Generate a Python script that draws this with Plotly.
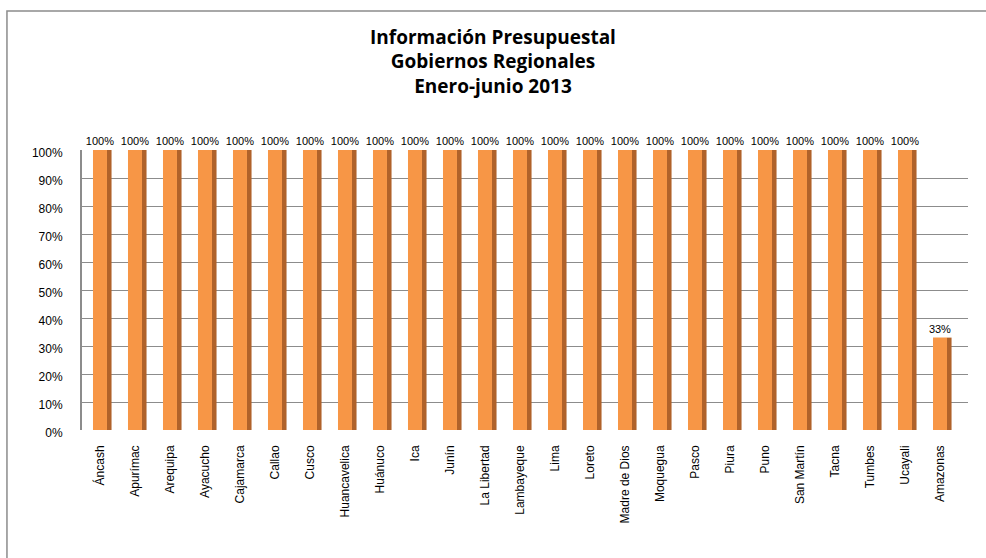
import plotly.graph_objects as go

categories = ["Áncash", "Apurímac", "Arequipa", "Ayacucho", "Cajamarca", "Callao", "Cusco",
              "Huancavelica", "Huánuco", "Ica", "Junín", "La Libertad", "Lambayeque", "Lima",
              "Loreto", "Madre de Dios", "Moquegua", "Pasco", "Piura", "Puno", "San Martín",
              "Tacna", "Tumbes", "Ucayali", "Amazonas"]
values = [1.0] * 24 + [0.33]
labels = ["100%"] * 24 + ["33%"]
y_ticks = [0, 0.1, 0.2, 0.3, 0.4, 0.5, 0.6, 0.7, 0.8, 0.9, 1.0]
y_ticktext = ["0%", "10%", "20%", "30%", "40%", "50%", "60%", "70%", "80%", "90%", "100%"]

idx = list(range(len(categories)))
label_font = dict(family="Liberation Sans, Arial", size=11, color="#000000")

fig = go.Figure()
# side face (darker)
fig.add_trace(go.Bar(x=idx, y=values, width=0.13, offset=0.2,
                     marker=dict(color="#B0622A", line=dict(width=0)),
                     hoverinfo="skip", showlegend=False))
# front face
fig.add_trace(go.Bar(x=idx, y=values, width=0.4, offset=-0.2,
                     marker=dict(color="#F79646", line=dict(width=0)),
                     text=labels, textposition="outside", cliponaxis=False,
                     constraintext="none",
                     textfont=label_font, outsidetextfont=label_font,
                     showlegend=False))

fig.update_layout(
    width=986, height=558,
    barmode="overlay",
    paper_bgcolor="white", plot_bgcolor="white",
    margin=dict(l=82, r=18, t=150, b=128, autoexpand=False),
    title=dict(text="<b>Información Presupuestal<br>Gobiernos Regionales<br>Enero-junio 2013</b>",
               x=0.5, xanchor="center", y=0.922, yanchor="top",
               font=dict(family="Open Sans, Liberation Sans", size=19, color="#000000")),
    xaxis=dict(tickmode="array", tickvals=idx, ticktext=categories, tickangle=-90,
               range=[-0.514, 24.8], showgrid=False, zeroline=False, showline=False,
               automargin=False, ticks="", ticklabelstandoff=12,
               tickfont=dict(family="Liberation Sans, Arial", size=12, color="#000000")),
    yaxis=dict(tickmode="array", tickvals=y_ticks, ticktext=y_ticktext, range=[0, 1.0],
               showgrid=True, gridcolor="#8C8C8C", gridwidth=1, zeroline=False,
               automargin=False, ticklabelstandoff=15, ticklabelshift=3,
               showline=True, linecolor="#8C8C8C", linewidth=2, ticks="",
               tickfont=dict(family="Liberation Sans, Arial", size=12, color="#000000")),
    shapes=[dict(type="rect", xref="paper", yref="paper",
                 x0=-0.0847, x1=1.05, y0=-0.6, y1=(430 - 11) / 280,
                 line=dict(color="#8C8C8C", width=1.5), layer="below")],
)

fig.write_html("out.html", config={"displayModeBar": False},
               post_script="document.body.style.margin='0';")
